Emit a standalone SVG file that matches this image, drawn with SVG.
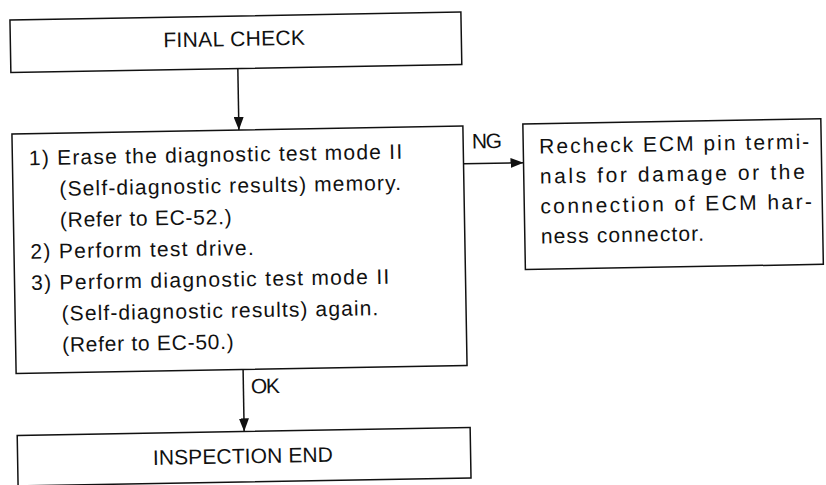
<svg xmlns="http://www.w3.org/2000/svg" width="826" height="485" viewBox="0 0 826 485">
  <style>
    .box { fill: #ffffff; stroke: #111111; stroke-width: 1.5; }
    .edge { fill: none; stroke: #111111; stroke-width: 1.5; }
    text { font-family: "Liberation Sans", Arial, Helvetica, sans-serif; font-size: 21px; fill: #111111; }
  </style>
  <defs>
    <marker id="arrow" markerUnits="userSpaceOnUse" markerWidth="13" markerHeight="10" refX="13" refY="5" orient="auto">
      <path d="M0,0 L13,5 L0,10 z" fill="#111111"/>
    </marker>
  </defs>
  <rect width="826" height="485" fill="#ffffff"/>
  <g transform="rotate(-1 240 250)">
    <g id="connectors">
      <line class="edge" x1="241" y1="68.5" x2="241" y2="130" marker-end="url(#arrow)"/>
      <line class="edge" x1="465" y1="167.7" x2="525" y2="167.7" marker-end="url(#arrow)"/>
      <text x="473.8" y="152.6" textLength="30" lengthAdjust="spacing">NG</text>
      <line class="edge" x1="241" y1="369.5" x2="241" y2="431.5" marker-end="url(#arrow)"/>
      <text x="248.5" y="393.7" textLength="29" lengthAdjust="spacing">OK</text>
    </g>
    <g id="final-check">
      <rect class="box" x="14" y="16" width="451" height="52.5"/>
      <text x="167" y="46" textLength="141.7" lengthAdjust="spacing">FINAL CHECK</text>
    </g>
    <g id="steps">
      <rect class="box" x="14" y="130" width="451" height="239.5"/>
      <text x="30.5" y="161.5" textLength="373.3" lengthAdjust="spacing">1) Erase the diagnostic test mode II</text>
      <text x="60.5" y="192.7" textLength="341.7" lengthAdjust="spacing">(Self-diagnostic results) memory.</text>
      <text x="60.5" y="223.9" textLength="171.7" lengthAdjust="spacing">(Refer to EC-52.)</text>
      <text x="30.5" y="255.1" textLength="223.3" lengthAdjust="spacing">2) Perform test drive.</text>
      <text x="30.5" y="286.3" textLength="358.3" lengthAdjust="spacing">3) Perform diagnostic test mode II</text>
      <text x="60.5" y="317.5" textLength="316.7" lengthAdjust="spacing">(Self-diagnostic results) again.</text>
      <text x="60.5" y="348.7" textLength="171.6" lengthAdjust="spacing">(Refer to EC-50.)</text>
    </g>
    <g id="recheck">
      <rect class="box" x="525" y="129" width="298" height="145.5"/>
      <text x="541" y="158.7" textLength="270" lengthAdjust="spacing">Recheck ECM pin termi-</text>
      <text x="541" y="188.7" textLength="265" lengthAdjust="spacing">nals for damage or the</text>
      <text x="541" y="218.7" textLength="271.7" lengthAdjust="spacing">connection of ECM har-</text>
      <text x="541" y="248.7" textLength="163.3" lengthAdjust="spacing">ness connector.</text>
    </g>
    <g id="inspection-end">
      <rect class="box" x="14" y="431.5" width="453" height="50.5"/>
      <text x="149.3" y="463.4" textLength="180" lengthAdjust="spacing">INSPECTION END</text>
    </g>
  </g>
</svg>
